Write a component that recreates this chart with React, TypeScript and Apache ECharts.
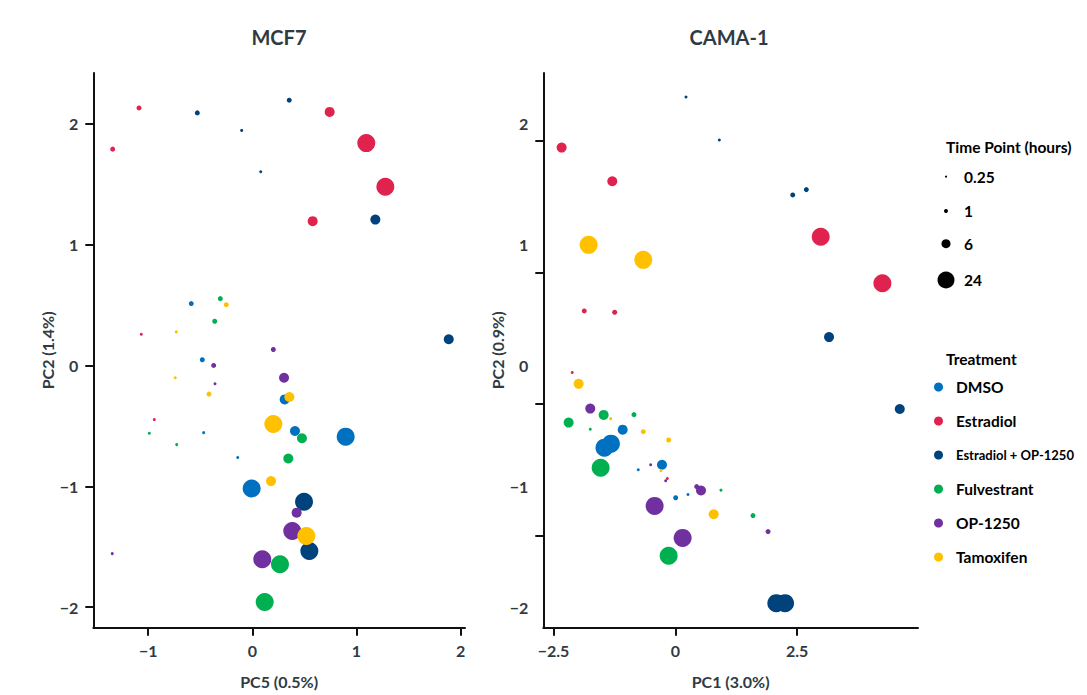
import React, { useEffect, useRef } from 'react';
import * as echarts from 'echarts';

// ---------- data ----------
const treatments = ['DMSO', 'Estradiol', 'Estradiol + OP-1250', 'Fulvestrant', 'OP-1250', 'Tamoxifen'];
const timePoints = [0.25, 1, 6, 24];
const timeLegendLabels = ['0.25', '1', '6', '24'];

// MCF7 panel: [PC5, PC2, hours]
const mcf7DMSO = [[-0.586, 0.512, 1], [-0.48, 0.047, 1], [-0.467, -0.556, 0.25], [-0.14, -0.762, 0.25], [0.311, -0.281, 6], [0.41, -0.542, 6], [0.897, -0.589, 24], [-0.006, -1.018, 24]];
const mcf7Estradiol = [[-1.066, 0.258, 0.25], [-0.941, -0.448, 0.25], [-1.088, 2.131, 1], [-1.341, 1.79, 1], [0.743, 2.098, 6], [0.58, 1.194, 6], [1.095, 1.84, 24], [1.278, 1.479, 24]];
const mcf7EstradiolOP = [[-0.102, 1.945, 0.25], [0.081, 1.603, 0.25], [-0.528, 2.09, 1], [0.355, 2.195, 1], [1.182, 1.207, 6], [1.887, 0.217, 6], [0.497, -1.128, 24], [0.548, -1.535, 24]];
const mcf7Fulvestrant = [[-0.989, -0.561, 0.25], [-0.726, -0.655, 0.25], [-0.307, 0.553, 1], [-0.361, 0.366, 1], [0.477, -0.602, 6], [0.346, -0.77, 6], [0.266, -1.645, 24], [0.119, -1.958, 24]];
const mcf7OP1250 = [[-0.358, -0.151, 0.25], [-1.345, -1.557, 0.25], [0.202, 0.132, 1], [-0.371, 0.0, 1], [0.305, -0.102, 6], [0.426, -1.218, 6], [0.384, -1.37, 24], [0.096, -1.603, 24]];
const mcf7Tamoxifen = [[-0.73, 0.278, 0.25], [-0.74, -0.102, 0.25], [-0.25, 0.503, 1], [-0.416, -0.237, 1], [0.356, -0.261, 6], [0.18, -0.957, 6], [0.202, -0.484, 24], [0.519, -1.411, 24]];

// CAMA-1 panel: [PC1, PC2, hours]
const camaDMSO = [[-0.76, -0.863, 0.25], [0.261, -1.068, 0.25], [0.008, -1.095, 1], [-1.08, -0.531, 6], [-0.273, -0.822, 6], [-1.454, -0.68, 24], [-1.32, -0.647, 24]];
const camaEstradiol = [[-2.115, -0.058, 0.25], [-0.164, -0.935, 0.25], [-1.869, 0.451, 1], [-1.244, 0.44, 1], [-2.333, 1.803, 6], [-1.293, 1.524, 6], [2.985, 1.065, 24], [4.251, 0.68, 24]];
const camaEstradiolOP = [[0.22, 2.222, 0.25], [0.904, 1.865, 0.25], [2.411, 1.411, 1], [2.69, 1.455, 1], [3.156, 0.235, 6], [4.608, -0.36, 6], [2.074, -1.967, 24], [2.253, -1.967, 24]];
const camaFulvestrant = [[-1.745, -0.528, 0.25], [0.938, -1.032, 0.25], [-0.848, -0.407, 1], [1.595, -1.242, 1], [-2.189, -0.473, 6], [-1.47, -0.409, 6], [-1.532, -0.846, 24], [-0.136, -1.574, 24]];
const camaOP1250 = [[-0.505, -0.822, 0.25], [-0.197, -0.954, 0.25], [0.439, -1.002, 1], [1.904, -1.375, 1], [-1.745, -0.357, 6], [0.528, -1.035, 6], [-0.424, -1.162, 24], [0.151, -1.427, 24]];
const camaTamoxifen = [[-1.327, -0.44, 0.25], [-0.294, -0.871, 0.25], [-0.657, -0.548, 1], [-0.136, -0.617, 1], [-1.984, -0.152, 6], [0.788, -1.231, 6], [-1.778, 0.998, 24], [-0.657, 0.874, 24]];

const panelTitles = ['MCF7', 'CAMA-1'];
const xAxisNames = ['PC5 (0.5%)', 'PC1 (3.0%)'];
const yAxisNames = ['PC2 (1.4%)', 'PC2 (0.9%)'];
const mcf7XTicks = [-1, 0, 1, 2];
const camaXTicks = [-2.5, 0, 2.5];
const yLabelTicks = [-2, -1, 0, 1, 2];
const camaYTickMarks = [1.86, 0.771, -0.321, -1.411];

const panelData = [
  [mcf7DMSO, mcf7Estradiol, mcf7EstradiolOP, mcf7Fulvestrant, mcf7OP1250, mcf7Tamoxifen],
  [camaDMSO, camaEstradiol, camaEstradiolOP, camaFulvestrant, camaOP1250, camaTamoxifen],
];

// ---------- styles ----------
const colors = ['#0070C0', '#E0234E', '#00427C', '#00B050', '#7030A0', '#FFC000'];
const pointSizes = [3, 5, 10, 18];
const legendSizes = [2, 4, 9, 17];
const FONT = 'Lato';
const TEXT = '#2F3B43';
const LINE = '#111111';
const LEGEND_FONT = 15.5;
const LONG_LEGEND_FONT = 13;

const sizeFor = (h: number) => pointSizes[timePoints.indexOf(h)] ?? 5;
const fmt = (v: number) => String(v).replace('-', '\u2212');

export default function App() {
  const ref = useRef<HTMLDivElement>(null);

  useEffect(() => {
    if (!ref.current) return;
    const chart = echarts.init(ref.current, undefined, { renderer: 'svg' });

    const grids = [
      { left: 93.3, top: 73, width: 371.7, height: 554.7 },
      { left: 543.3, top: 73, width: 374.7, height: 554.7 },
    ];
    const xRanges = [[-1.527, 2.043], [-2.709, 4.982]];
    const xTicks = [mcf7XTicks, camaXTicks];
    const yTickMarks = [yLabelTicks, camaYTickMarks];

    const labelStyle = { fontFamily: FONT, fontWeight: 'bold', fontSize: 16, color: TEXT };
    const nameStyle = { fontFamily: FONT, fontWeight: 'bold', fontSize: 16, color: TEXT };
    const axisLine = { show: true, onZero: false, lineStyle: { color: LINE, width: 2 } };

    const xAxis = [0, 1].map((i) => ({
      gridIndex: i,
      type: 'value',
      min: xRanges[i][0],
      max: xRanges[i][1],
      name: xAxisNames[i],
      nameLocation: 'middle',
      nameGap: 46,
      nameTextStyle: nameStyle,
      axisLine,
      axisTick: { show: true, length: 8, customValues: xTicks[i], lineStyle: { color: LINE, width: 2 } },
      axisLabel: { customValues: xTicks[i], formatter: fmt, margin: 15, ...labelStyle },
      splitLine: { show: false },
    }));

    const yAxis = [0, 1].map((i) => ({
      gridIndex: i,
      type: 'value',
      min: -2.17,
      max: 2.42,
      name: yAxisNames[i],
      nameLocation: 'middle',
      nameGap: 37,
      nameTextStyle: nameStyle,
      axisLine,
      axisTick: { show: true, length: 8, customValues: yTickMarks[i], lineStyle: { color: LINE, width: 2 } },
      axisLabel: { customValues: yLabelTicks, formatter: fmt, margin: 15, ...labelStyle },
      splitLine: { show: false },
    }));

    const series: any[] = [];
    panelData.forEach((sets, p) => {
      sets.forEach((data, t) => {
        series.push({
          type: 'scatter',
          name: treatments[t],
          xAxisIndex: p,
          yAxisIndex: p,
          data,
          symbol: 'circle',
          symbolSize: (v: number[]) => sizeFor(v[2]),
          itemStyle: { color: colors[t], opacity: 1 },
          emphasis: { disabled: true },
        });
      });
    });

    const sizeLegendY = [176.7, 211, 243.7, 280];
    const graphic: any[] = [
      {
        type: 'text',
        left: 946,
        top: 139,
        style: { text: 'Time Point (hours)', font: `bold ${LEGEND_FONT}px ${FONT}`, fill: '#000' },
      },
      {
        type: 'text',
        left: 946,
        top: 351,
        style: { text: 'Treatment', font: `bold ${LEGEND_FONT}px ${FONT}`, fill: '#000' },
      },
    ];
    timePoints.forEach((_, k) => {
      graphic.push({
        type: 'circle',
        shape: { cx: 946, cy: sizeLegendY[k], r: legendSizes[k] / 2 },
        style: { fill: '#000' },
      });
      graphic.push({
        type: 'text',
        x: 964,
        y: sizeLegendY[k],
        style: { text: timeLegendLabels[k], font: `bold ${LEGEND_FONT}px ${FONT}`, fill: '#000', verticalAlign: 'middle' },
      });
    });

    const legendData = treatments.map((name) =>
      name.length > 14 ? { name, textStyle: { fontSize: LONG_LEGEND_FONT } } : { name }
    );

    chart.setOption({
      animation: false,
      color: colors,
      title: panelTitles.map((t, i) => ({
        text: t,
        left: i === 0 ? 274 : 724,
        top: 22,
        textAlign: 'center',
        textStyle: { fontFamily: FONT, fontWeight: 'bold', fontSize: 20, color: TEXT },
      })),
      grid: grids,
      xAxis,
      yAxis,
      legend: {
        data: legendData,
        orient: 'vertical',
        left: 929,
        top: 373.5,
        icon: 'circle',
        itemWidth: 25,
        itemHeight: 9,
        itemGap: 17,
        selectedMode: false,
        textStyle: { fontFamily: FONT, fontWeight: 'bold', fontSize: LEGEND_FONT, color: '#000', lineHeight: 17 },
      },
      graphic,
      series,
    });

    return () => chart.dispose();
  }, []);

  return (
    <div
      ref={ref}
      style={{ position: 'fixed', left: 0, top: 0, width: 1087, height: 695, background: '#fff' }}
    />
  );
}
